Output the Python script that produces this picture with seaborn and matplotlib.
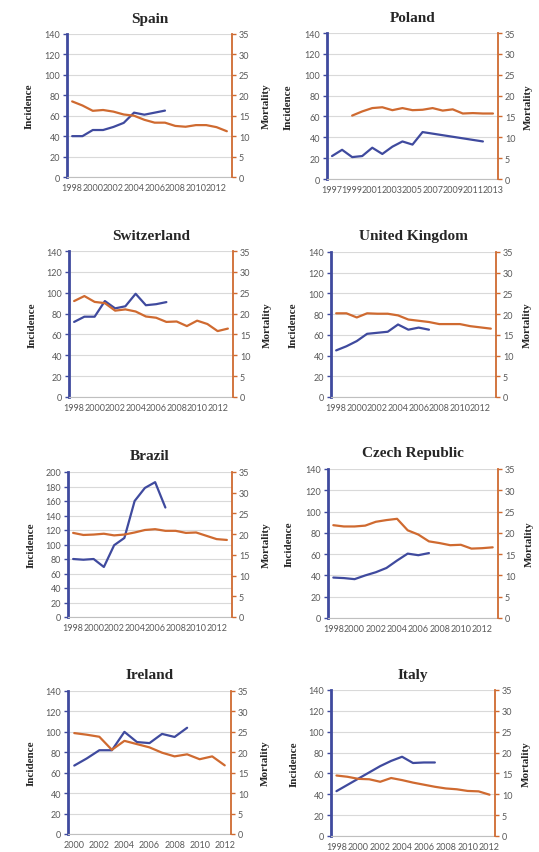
import numpy as np
import pandas as pd
import seaborn as sns
import matplotlib.pyplot as plt
from matplotlib.ticker import FixedLocator

nan = np.nan

# ---- data ----
spain_years = [1998, 1999, 2000, 2001, 2002, 2003, 2004, 2005, 2006, 2007, 2008, 2009, 2010, 2011, 2012, 2013]
spain_incidence = [40, 40, 46, 46, 49, 53, 63, 61, 63, 65, nan, nan, nan, nan, nan, nan]
spain_mortality = [18.5, 17.5, 16.2, 16.4, 16.0, 15.3, 15.0, 14.0, 13.3, 13.3, 12.5, 12.3, 12.7, 12.7, 12.2, 11.2]

poland_years = [1997, 1998, 1999, 2000, 2001, 2002, 2003, 2004, 2005, 2006, 2007, 2008, 2009, 2010, 2011, 2012, 2013]
poland_incidence = [22, 28, 21, 22, 30, 24, 31, 36, 33, 45, nan, nan, nan, nan, nan, 36, nan]
poland_mortality = [nan, nan, 15.2, 16.2, 17.0, 17.2, 16.5, 17.0, 16.5, 16.6, 17.0, 16.4, 16.7, 15.7, 15.8, 15.7, 15.7]

swiss_years = [1998, 1999, 2000, 2001, 2002, 2003, 2004, 2005, 2006, 2007, 2008, 2009, 2010, 2011, 2012, 2013]
swiss_incidence = [72, 77, 77, 92, 85, 87, 99, 88, 89, 91, nan, nan, nan, nan, nan, nan]
swiss_mortality = [23.0, 24.2, 22.8, 22.5, 20.7, 21.0, 20.5, 19.3, 19.0, 18.0, 18.1, 17.0, 18.3, 17.5, 15.8, 16.4]

uk_years = [1998, 1999, 2000, 2001, 2002, 2003, 2004, 2005, 2006, 2007, 2008, 2009, 2010, 2011, 2012, 2013]
uk_incidence = [45, 49, 54, 61, 62, 63, 70, 65, 67, 65, nan, nan, nan, nan, nan, nan]
uk_mortality = [20.2, 20.2, 19.2, 20.2, 20.1, 20.1, 19.7, 18.7, 18.4, 18.1, 17.6, 17.6, 17.6, 17.1, 16.8, 16.5]

brazil_years = [1998, 1999, 2000, 2001, 2002, 2003, 2004, 2005, 2006, 2007, 2008, 2009, 2010, 2011, 2012, 2013]
brazil_incidence = [80, 79, 80, 69, 99, 109, 160, 178, 186, 151, nan, nan, nan, nan, nan, nan]
brazil_mortality = [20.3, 19.8, 19.9, 20.1, 19.7, 19.9, 20.4, 21.0, 21.2, 20.8, 20.8, 20.3, 20.4, 19.6, 18.8, 18.6]

czech_years = [1998, 1999, 2000, 2001, 2002, 2003, 2004, 2005, 2006, 2007, 2008, 2009, 2010, 2011, 2012, 2013]
czech_incidence = [38, 37.5, 36.5, 40, 43, 47, 54, 60.5, 59, 61, nan, nan, nan, nan, nan, nan]
czech_mortality = [21.8, 21.5, 21.5, 21.7, 22.6, 23.0, 23.3, 20.6, 19.6, 18.0, 17.6, 17.1, 17.2, 16.3, 16.4, 16.6]

ireland_years = [2000, 2001, 2002, 2003, 2004, 2005, 2006, 2007, 2008, 2009, 2010, 2011, 2012]
ireland_incidence = [67, 74, 82, 82, 100, 90, 89, 98, 95, 104, nan, nan, nan]
ireland_mortality = [24.7, 24.3, 23.8, 20.6, 22.8, 22.0, 21.2, 19.9, 19.0, 19.5, 18.3, 19.0, 16.8]

italy_years = [1998, 1999, 2000, 2001, 2002, 2003, 2004, 2005, 2006, 2007, 2008, 2009, 2010, 2011, 2012]
italy_incidence = [43, 49, 55, 61, 67, 72, 76, 70, 70.5, 70.5, nan, nan, nan, nan, nan]
italy_mortality = [14.5, 14.2, 13.7, 13.6, 13.0, 13.9, 13.4, 12.8, 12.3, 11.8, 11.4, 11.2, 10.8, 10.7, 9.9]

BLUE = '#3F4A9E'
ORANGE = '#CF6A30'
GRID = '#D9D9D9'
TICKTXT = '#595959'
W, H = 539, 853

sns.set_style('white')
plt.rcParams['font.family'] = ['Lato', 'DejaVu Sans']

fig = plt.figure(figsize=(W / 100, H / 100), dpi=100)


def draw_panel(box, title, years, incidence, mortality, inc_max=140, inc_step=20, mort_x=1.18):
    l, t, r, b = box
    ax = fig.add_axes([l / W, 1 - b / H, (r - l) / W, (b - t) / H])
    ax2 = ax.twinx()
    df = pd.DataFrame({'Year': years, 'Incidence': incidence, 'Mortality': mortality})

    sns.lineplot(data=df.dropna(subset=['Incidence']), x='Year', y='Incidence',
                 ax=ax, color=BLUE, lw=1.6)
    sns.lineplot(data=df.dropna(subset=['Mortality']), x='Year', y='Mortality',
                 ax=ax2, color=ORANGE, lw=1.6)

    ax.set_xlim(years[0] - 0.5, years[-1] + 0.5)
    ax.set_ylim(0, inc_max)
    ax2.set_ylim(0, 35)
    ax.set_yticks(np.arange(0, inc_max + 1, inc_step))
    ax2.set_yticks(np.arange(0, 36, 5))

    # category style x axis: labels every other year, ticks between categories
    ax.set_xticks(years[::2])
    ax.set_xticklabels([str(y) for y in years[::2]])
    ax.xaxis.set_minor_locator(FixedLocator([y - 0.5 for y in years] + [years[-1] + 0.5]))
    ax.tick_params(axis='x', which='major', length=0, labelsize=6.5, labelcolor=TICKTXT, pad=4)
    ax.tick_params(axis='x', which='minor', length=3, color='#BFBFBF', width=0.8, direction='out')

    ax.tick_params(axis='y', length=3, width=1, color=BLUE, direction='out',
                   labelsize=6.5, labelcolor=TICKTXT, pad=2)
    ax2.tick_params(axis='y', length=3, width=1, color=ORANGE, direction='out',
                    labelsize=6.5, labelcolor=TICKTXT, pad=2)

    ax.yaxis.grid(True, color=GRID, lw=0.8)
    ax.set_axisbelow(True)

    for s in ['top', 'right']:
        ax.spines[s].set_visible(False)
    ax.spines['left'].set_color(BLUE)
    ax.spines['left'].set_linewidth(2.0)
    ax.spines['bottom'].set_color('#BFBFBF')
    ax.spines['bottom'].set_linewidth(0.8)
    for s in ['top', 'left', 'bottom']:
        ax2.spines[s].set_visible(False)
    ax2.spines['right'].set_color(ORANGE)
    ax2.spines['right'].set_linewidth(1.3)

    ax.set_xlabel('')
    ax.set_ylabel('Incidence', family='Liberation Serif', fontweight='bold', fontsize=8)
    ax2.set_ylabel('Mortality', family='Liberation Serif', fontweight='bold', fontsize=8)
    ax.yaxis.set_label_coords(-0.2, 0.5)
    ax2.yaxis.set_label_coords(mort_x, 0.5)
    ax.set_title(title, family='Liberation Serif', fontweight='bold', fontsize=11, pad=9)


draw_panel((67, 35, 232, 178), 'Spain', spain_years, spain_incidence, spain_mortality)
draw_panel((327, 34, 498, 180), 'Poland', poland_years, poland_incidence, poland_mortality,
           mort_x=1.15)
draw_panel((69, 252, 233, 398), 'Switzerland', swiss_years, swiss_incidence, swiss_mortality)
draw_panel((331, 253, 496, 398), 'United Kingdom', uk_years, uk_incidence, uk_mortality,
           mort_x=1.16)
draw_panel((68, 473, 232, 618), 'Brazil', brazil_years, brazil_incidence, brazil_mortality,
           inc_max=200, inc_step=20)
draw_panel((328, 470, 498, 619), 'Czech Republic', czech_years, czech_incidence, czech_mortality,
           mort_x=1.155)
draw_panel((68, 692, 231, 835), 'Ireland', ireland_years, ireland_incidence, ireland_mortality)
draw_panel((331, 691, 495, 837), 'Italy', italy_years, italy_incidence, italy_mortality,
           mort_x=1.165)

fig.savefig('out.png', dpi=100)
